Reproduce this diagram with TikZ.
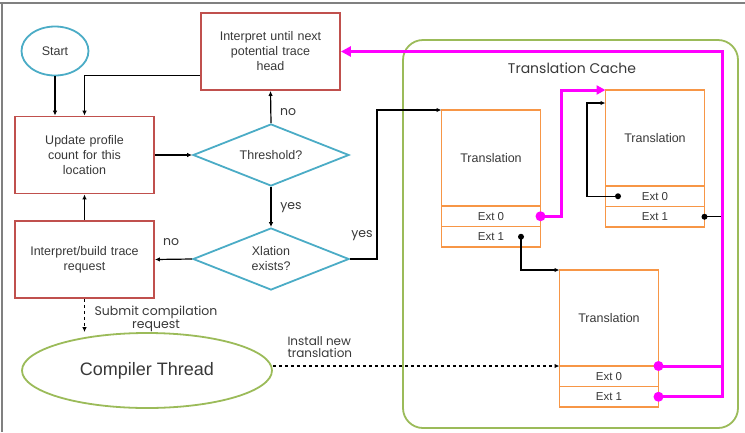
\documentclass[tikz,border=0pt]{standalone}
\usepackage{fontspec}
\setmainfont{Liberation Sans}
\newfontfamily\gothic{Poppins}
\usetikzlibrary{arrows.meta, shapes.geometric}
\usetikzlibrary{positioning}
\definecolor{boxred}{HTML}{C0504D}
\definecolor{diablue}{HTML}{4BACC6}
\definecolor{cachegreen}{HTML}{9BBB59}
\definecolor{transorange}{HTML}{F79646}
\definecolor{txtgray}{HTML}{383838}
\definecolor{hotpink}{HTML}{FF00FF}
\tikzstyle{step_box} = [
    rectangle,
    draw=boxred,
    line width=1.8pt,
    text=txtgray,
    align=center,
    font=\fontsize{12.5}{15}\selectfont,
    minimum width=139pt,
    minimum height=77pt,
    text width=125pt
]
\tikzstyle{decision} = [
    diamond,
    draw=diablue,
    line width=1.8pt,
    text=txtgray,
    align=center,
    aspect=2.5,
    inner sep=0pt,
    font=\fontsize{12.5}{15}\selectfont,
    minimum width=156pt,
    minimum height=62pt
]
\tikzstyle{trans} = [
    rectangle,
    draw=transorange,
    line width=1.6pt,
    text=txtgray,
    outer sep=0pt,
    font=\fontsize{12.5}{15}\selectfont,
    minimum width=99pt,
    minimum height=96pt
]
\tikzstyle{ext} = [
    rectangle,
    draw=transorange,
    line width=1.6pt,
    text=txtgray,
    outer sep=0pt,
    inner sep=0pt,
    font=\fontsize{11.5}{13}\selectfont,
    minimum width=99pt,
    minimum height=20.5pt
]
\tikzstyle{flow} = [
    draw=black,
    line width=1.2pt,
    -{Latex[length=5pt,width=4.5pt]}
]
\tikzstyle{hot} = [
    draw=hotpink,
    line width=3pt
]
\tikzstyle{lbl} = [
    text=txtgray,
    font=\gothic\fontsize{12.5}{12}\selectfont
]

\begin{document}
\begin{tikzpicture}[x=1pt, y=-1pt]
\useasboundingbox (0,0) rectangle (745,432);
\draw [gray, line width=2pt] (0,3) -- (745,3);
\draw [gray, line width=2pt] (2,3) -- (2,432);

% main loop
\node [ellipse, draw=diablue, line width=1.8pt, text=txtgray,
       font=\fontsize{12.5}{15}\selectfont,
       minimum width=67pt, minimum height=49pt] (start) at (55,51) {Start};
\node [step_box] (update) at (84.5,155) {Update profile\\count for this\\location};
\node [step_box] (interp) at (270.5,51.5) {Interpret until next\\potential trace\\head};
\node [decision] (thresh) at (271,155) {Threshold?};
\node [decision] (xlat) at (271,259) {Xlation\\exists?};
\node [step_box] (build) at (84.5,259.5) {Interpret/build trace\\request};
\node [ellipse, draw=cachegreen, line width=1.8pt, text=txtgray,
       font=\fontsize{18}{20}\selectfont,
       minimum width=250pt, minimum height=75pt] (compiler) at (147,370.5) {Compiler Thread};

% translation cache
\draw [cachegreen, line width=1.8pt, rounded corners=20pt] (403,40) rectangle (738,428);
\node [lbl, font=\gothic\fontsize{14}{14}\selectfont] (cache) at (572,68) {Translation Cache};

\node [trans] (t1) at (491,158) {Translation};
\node [ext, below=0pt of t1] (e10) {Ext 0};
\node [ext, below=0pt of e10] (e11) {Ext 1};
\node [trans] (t2) at (655,138) {Translation};
\node [ext, below=0pt of t2] (e20) {Ext 0};
\node [ext, below=0pt of e20] (e21) {Ext 1};
\node [trans] (t3) at (609,318) {Translation};
\node [ext, below=0pt of t3] (e30) {Ext 0};
\node [ext, below=0pt of e30] (e31) {Ext 1};
\coordinate (rail) at (722,50);

\draw [flow] (start.south) -- (start.south |- update.north);
\draw [flow] ([yshift=-24pt]interp.west) -| (update.north);
\draw [flow] (update.east) -- (thresh.west);
\draw [flow] (thresh.north) -- (interp.south);
\draw [flow] (thresh.south) -- (xlat.north);
\draw [flow] (xlat.west) -- (build.east);
\draw [flow] (build.north) -- (update.south);
\draw [flow] (xlat.east) -- ++(27,0) |- (t1.north west);
\draw [flow, dashed] (build.south) -- (build.south |- compiler.north);
\draw [flow, dashed] (compiler.east |- t3.south west) -- (t3.south west);

\node [lbl] at (288,112) {no};
\node [lbl] at (291,208) {yes};
\node [lbl] at (171,242) {no};
\node [lbl] at (362,236) {yes};
\node [lbl, align=center, font=\gothic\fontsize{12.5}{12.5}\selectfont] at (156,319) {Submit compilation\\request};
\node [lbl, align=left, anchor=west, font=\gothic\fontsize{12}{12}\selectfont] at (284,347) {Install new\\translation};

% exits
\draw [flow] ([xshift=-37pt]e20.center) -- ++(-31,0) |- ([yshift=-13pt]t2.north west);
\fill ([xshift=-37pt]e20.center) circle (3pt);
\draw [flow] ([xshift=30pt]e11.center) |- (t3.north west);
\fill ([xshift=30pt]e11.center) circle (3pt);
\draw [black, line width=1.2pt] (e21.east) -- (e21.east -| rail);
\fill (e21.east) circle (3pt);

\draw [hot, -{Triangle[length=9pt,width=9pt]}] (e10.east) -- ++(21,0) |- (t2.north west);
\draw [hot, -{Triangle[length=10pt,width=10pt]}] (t3.south east) -| (rail) |- (interp.east);
\draw [hot] (e31.east) -| (t3.south east -| rail);
\fill [hotpink] (e10.east) circle (5pt);
\fill [hotpink] (t3.south east) circle (5pt);
\fill [hotpink] (e31.east) circle (5pt);
\end{tikzpicture}
\end{document}
